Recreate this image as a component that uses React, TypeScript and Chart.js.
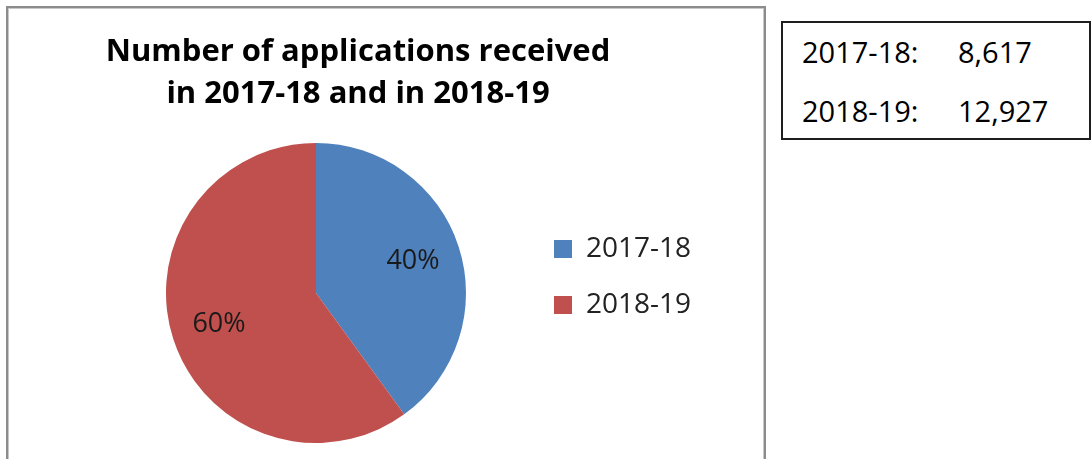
import React, { useEffect, useRef } from "react";
import { Chart, registerables } from "chart.js";

Chart.register(...registerables);

const categories: string[] = ["2017-18", "2018-19"];
const applications: number[] = [8617, 12927];
const sliceColors: string[] = ["#4F81BD", "#C0504D"];
const titleLines: string[] = ["Number of applications received", "in 2017-18 and in 2018-19"];
const boxRows: string[][] = [
  ["2017-18:", "8,617"],
  ["2018-19:", "12,927"],
];

const FONT = "'Open Sans', 'Noto Sans', sans-serif";

const pctLabels = {
  id: "pctLabels",
  afterDatasetsDraw(chart: any) {
    const ctx = chart.ctx;
    const meta = chart.getDatasetMeta(0);
    const data = chart.data.datasets[0].data as number[];
    const total = data.reduce((a: number, b: number) => a + b, 0);
    ctx.save();
    ctx.font = `27px ${FONT}`;
    ctx.fillStyle = "#1a1a1a";
    ctx.textAlign = "center";
    ctx.textBaseline = "middle";
    meta.data.forEach((arc: any, i: number) => {
      const p = arc.getProps(["x", "y", "startAngle", "endAngle", "outerRadius"], true);
      const mid = (p.startAngle + p.endAngle) / 2;
      const r = p.outerRadius * 0.68;
      const txt = Math.round((data[i] / total) * 100) + "%";
      ctx.fillText(txt, p.x + Math.cos(mid) * r, p.y + Math.sin(mid) * r);
    });
    ctx.restore();
  },
};

export default function App() {
  const canvasRef = useRef<HTMLCanvasElement | null>(null);

  useEffect(() => {
    if (!canvasRef.current) return;
    const chart = new Chart(canvasRef.current, {
      type: "pie",
      data: {
        labels: categories,
        datasets: [
          {
            data: applications,
            backgroundColor: sliceColors,
            borderWidth: 0,
            hoverOffset: 0,
          },
        ],
      },
      options: {
        responsive: false,
        animation: false,
        devicePixelRatio: 1,
        layout: { padding: { left: 22, right: 397, top: 0, bottom: 16 } },
        scales: {
          spacer: {
            type: "linear",
            axis: "y",
            position: "left",
            display: true,
            grid: { display: false, drawTicks: false },
            border: { display: false },
            ticks: { display: false },
            title: { display: false },
            afterFit: (scale: any) => {
              scale.width = 84;
            },
          },
        },
        plugins: {
          tooltip: { enabled: false },
          title: {
            display: true,
            text: titleLines,
            color: "#000000",
            font: { family: FONT, size: 31, weight: "bold", lineHeight: "42px" },
            padding: { top: 31.5, bottom: 27.5 },
          },
          legend: {
            display: true,
            position: "right",
            align: "center",
            maxWidth: 168,
            title: {
              display: true,
              text: "",
              font: { size: 10, lineHeight: 1 },
              padding: { top: 101, bottom: 0 },
            },
            labels: {
              boxWidth: 18,
              boxHeight: 18,
              padding: 28,
              color: "#222222",
              font: { family: FONT, size: 28 },
            },
          },
        },
      },
      plugins: [pctLabels],
    } as any);
    return () => chart.destroy();
  }, []);

  const textStyle: React.CSSProperties = {
    position: "absolute",
    fontFamily: FONT,
    fontSize: 29,
    lineHeight: "40px",
    color: "#000",
    whiteSpace: "nowrap",
  };

  return (
    <div
      style={{
        position: "fixed",
        left: 0,
        top: 0,
        width: 1091,
        height: 459,
        overflow: "hidden",
        background: "#ffffff",
      }}
    >
      <div
        style={{
          position: "absolute",
          left: 6,
          top: 6,
          width: 760,
          height: 480,
          boxSizing: "border-box",
          border: "2px solid #8c8c8c",
          boxShadow: "inset 0 0 0 1px #c8c8c8",
        }}
      />
      <div
        style={{
          position: "absolute",
          left: 781,
          top: 21,
          width: 310,
          height: 119,
          boxSizing: "border-box",
          border: "2px solid #1e1e1e",
        }}
      />
      {boxRows.map((row, i) => (
        <React.Fragment key={i}>
          <span style={{ ...textStyle, left: 802, top: 32 + i * 58.5 }}>{row[0]}</span>
          <span style={{ ...textStyle, left: 958, top: 32 + i * 58.5 }}>{row[1]}</span>
        </React.Fragment>
      ))}
      <canvas
        ref={canvasRef}
        width={1091}
        height={459}
        style={{ position: "absolute", left: 0, top: 0, width: 1091, height: 459 }}
      />
    </div>
  );
}
